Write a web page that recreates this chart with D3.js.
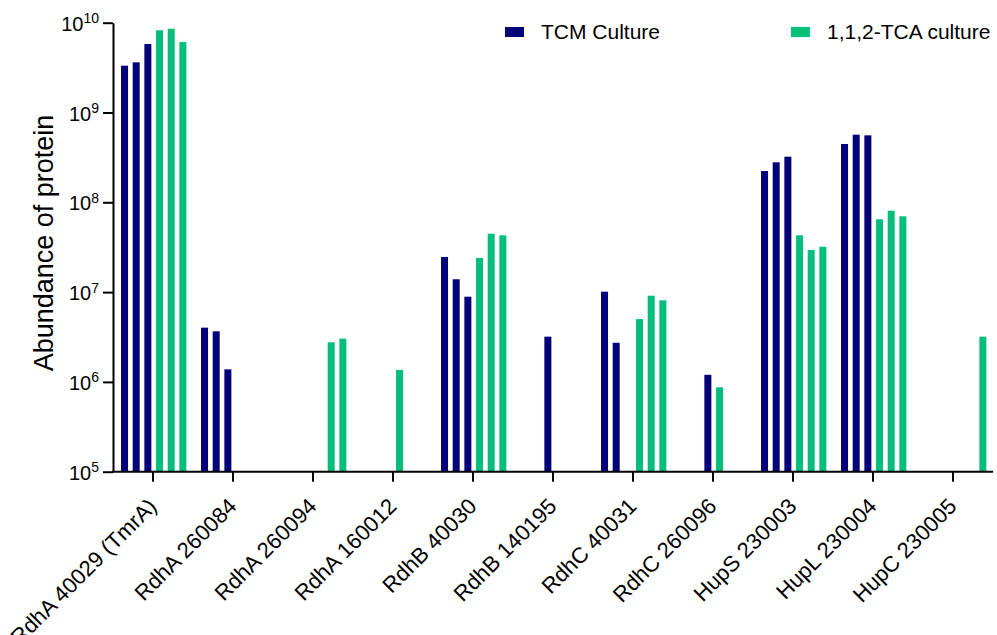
<!DOCTYPE html>
<html>
<head>
<meta charset="utf-8">
<script src="https://cdn.jsdelivr.net/npm/d3@7"></script>
<style>
  html, body { margin: 0; padding: 0; background: #fff; }
  svg { display: block; font-family: "Liberation Sans", Arial, Helvetica, sans-serif; }
</style>
</head>
<body>
<svg id="chart" width="997" height="635"></svg>
<script>
// ---- data ----
const categories = [
  "RdhA 40029 (TmrA)", "RdhA 260084", "RdhA 260094", "RdhA 160012",
  "RdhB 40030", "RdhB 140195", "RdhC 40031", "RdhC 260096",
  "HupS 230003", "HupL 230004", "HupC 230005"
];
const seriesNames = ["TCM Culture", "1,1,2-TCA culture"];
// three replicates per category; null = not detected
const tcmValues = [
  [3.32e9, 3.62e9, 5.79e9],
  [4.02e6, 3.66e6, 1.38e6],
  [null, null, null],
  [null, null, null],
  [2.46e7, 1.39e7, 8.89e6],
  [null, null, 3.19e6],
  [1.01e7, 2.73e6, null],
  [null, null, 1.20e6],
  [2.23e8, 2.79e8, 3.22e8],
  [4.46e8, 5.66e8, 5.57e8],
  [null, null, null]
];
const tcaValues = [
  [8.23e9, 8.58e9, 6.10e9],
  [null, null, null],
  [null, 2.76e6, 3.03e6],
  [1.36e6, null, null],
  [2.40e7, 4.47e7, 4.29e7],
  [null, null, null],
  [5.01e6, 9.12e6, 8.10e6],
  [8.7e5, null, null],
  [4.29e7, 2.94e7, 3.20e7],
  [6.47e7, 8.06e7, 6.98e7],
  [null, null, 3.19e6]
];
const yTickValues = [1e5, 1e6, 1e7, 1e8, 1e9, 1e10];
const yTickExponents = ["5", "6", "7", "8", "9", "10"];
const colors = ["#020178", "#05BE7B"];

// ---- build ----
const svg = d3.select("#chart");
const x0 = 113, x1 = 993, yTop = 22.7, yBot = 471.7;

const x = d3.scaleBand().domain(categories).range([x0, x1]).padding(0);
const slot = d3.scaleBand().domain(d3.range(6)).range([-34.3, 35.7])
  .paddingInner(0.4).paddingOuter(0.2);
const y = d3.scaleLog().domain([1e5, 1e10]).range([yBot, yTop]);

const bars = [];
categories.forEach((c, i) => {
  tcmValues[i].forEach((v, r) => { if (v != null) bars.push({c, s: 0, slot: r, v}); });
  tcaValues[i].forEach((v, r) => { if (v != null) bars.push({c, s: 1, slot: 3 + r, v}); });
});

svg.append("g").selectAll("rect").data(bars).join("rect")
  .attr("x", d => x(d.c) + x.bandwidth() / 2 + slot(d.slot))
  .attr("width", slot.bandwidth())
  .attr("y", d => y(d.v))
  .attr("height", d => y(1e5) - y(d.v))
  .attr("fill", d => colors[d.s]);

// y axis
const yAxis = svg.append("g")
  .attr("transform", `translate(${x0},0)`)
  .call(d3.axisLeft(y).tickValues(yTickValues).tickSize(10).tickSizeOuter(0).tickPadding(5).tickFormat(() => ""));
yAxis.select(".domain").attr("stroke", "#000").attr("stroke-width", 2);
yAxis.selectAll(".tick line").attr("stroke", "#000").attr("stroke-width", 2);
yAxis.selectAll(".tick text").each(function(d, i) {
  const t = d3.select(this)
    .attr("font-size", 20).attr("fill", "#000").attr("dy", "0.38em")
    .attr("x", -14).attr("text-anchor", "end");
  t.text(null);
  t.append("tspan").text("10");
  t.append("tspan").attr("font-size", 14).attr("dy", "-0.55em").text(yTickExponents[i]);
});

// x axis
const xAxis = svg.append("g")
  .attr("transform", `translate(0,${yBot})`)
  .call(d3.axisBottom(x).tickSize(10).tickSizeOuter(0));
xAxis.select(".domain").attr("stroke", "#000").attr("stroke-width", 2)
  .attr("d", `M${x0 - 1},0H${x1}`);
xAxis.selectAll(".tick line").attr("stroke", "#000").attr("stroke-width", 2);
xAxis.selectAll(".tick text")
  .attr("font-size", 22).attr("fill", "#000")
  .attr("text-anchor", "end")
  .attr("y", 0).attr("dy", 0)
  .attr("transform", "translate(5,36) rotate(-45)");

// y title
svg.append("text")
  .attr("transform", "translate(53,243) rotate(-90)")
  .attr("text-anchor", "middle")
  .attr("font-size", 27)
  .attr("fill", "#000")
  .text("Abundance of protein");

// legend
const legendX = [505, 791];
seriesNames.forEach((n, i) => {
  svg.append("rect").attr("x", legendX[i]).attr("y", 27).attr("width", 19).attr("height", 10)
    .attr("fill", colors[i]);
  svg.append("text").attr("x", legendX[i] + 36).attr("y", 39)
    .attr("font-size", 21).attr("fill", "#000").text(n);
});
</script>
</body>
</html>
